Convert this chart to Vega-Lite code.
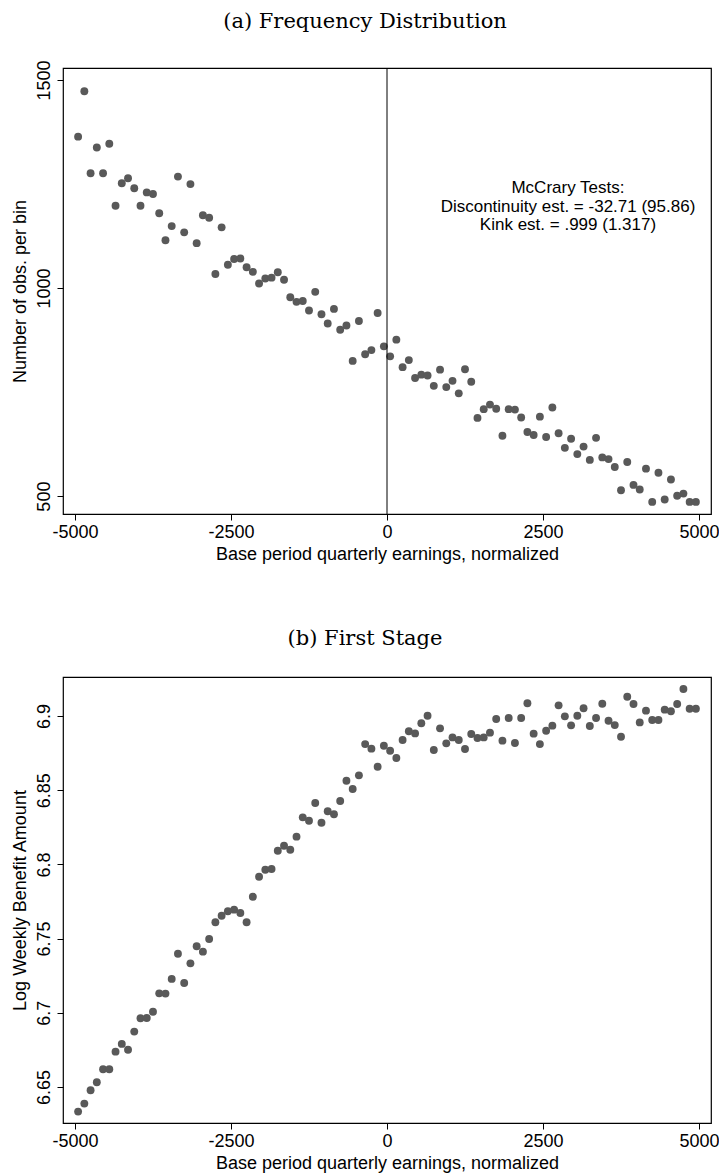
{
  "$schema": "https://vega.github.io/schema/vega-lite/v6.json",
  "background": "white",
  "padding": {"left": 10, "top": 10, "right": 0, "bottom": 0},
  "config": {
    "view": {"stroke": "black", "strokeWidth": 1.2},
    "font": "Liberation Sans",
    "axis": {"domain": false, "grid": false, "ticks": true, "tickColor": "black", "tickSize": 6, "tickWidth": 1, "labelFont": "Liberation Sans", "labelFontSize": 18, "labelColor": "black", "titleFont": "Liberation Sans", "titleFontSize": 18, "titleFontWeight": "normal", "titleColor": "black"},
    "title": {"font": "DejaVu Serif", "fontSize": 21, "fontWeight": "normal", "color": "black", "frame": "bounds", "offset": 28}
  },
  "datasets": {
    "freq": [
      {"x":-4950,"y":1364},{"x":-4850,"y":1473},{"x":-4750,"y":1276},{"x":-4650,"y":1338},{"x":-4550,"y":1276},
      {"x":-4450,"y":1347},{"x":-4350,"y":1198},{"x":-4250,"y":1252},{"x":-4150,"y":1264},{"x":-4050,"y":1240},
      {"x":-3950,"y":1198},{"x":-3850,"y":1230},{"x":-3750,"y":1226},{"x":-3650,"y":1180},{"x":-3550,"y":1115},
      {"x":-3450,"y":1149},{"x":-3350,"y":1268},{"x":-3250,"y":1134},{"x":-3150,"y":1250},{"x":-3050,"y":1108},
      {"x":-2950,"y":1175},{"x":-2850,"y":1169},{"x":-2750,"y":1034},{"x":-2650,"y":1146},{"x":-2550,"y":1056},
      {"x":-2450,"y":1070},{"x":-2350,"y":1071},{"x":-2250,"y":1050},{"x":-2150,"y":1039},{"x":-2050,"y":1011},
      {"x":-1950,"y":1023},{"x":-1850,"y":1025},{"x":-1750,"y":1038},{"x":-1650,"y":1020},{"x":-1550,"y":978},
      {"x":-1450,"y":967},{"x":-1350,"y":969},{"x":-1250,"y":946},{"x":-1150,"y":991},{"x":-1050,"y":937},
      {"x":-950,"y":915},{"x":-850,"y":950},{"x":-750,"y":900},{"x":-650,"y":910},{"x":-550,"y":825},
      {"x":-450,"y":921},{"x":-350,"y":841},{"x":-250,"y":851},{"x":-150,"y":940},{"x":-50,"y":860},
      {"x":50,"y":836},{"x":150,"y":876},{"x":250,"y":810},{"x":350,"y":827},{"x":450,"y":784},
      {"x":550,"y":792},{"x":650,"y":790},{"x":750,"y":765},{"x":850,"y":804},{"x":950,"y":762},
      {"x":1050,"y":777},{"x":1150,"y":747},{"x":1250,"y":805},{"x":1350,"y":775},{"x":1450,"y":688},
      {"x":1550,"y":709},{"x":1650,"y":720},{"x":1750,"y":710},{"x":1850,"y":645},{"x":1950,"y":709},
      {"x":2050,"y":708},{"x":2150,"y":689},{"x":2250,"y":654},{"x":2350,"y":647},{"x":2450,"y":691},
      {"x":2550,"y":642},{"x":2650,"y":713},{"x":2750,"y":651},{"x":2850,"y":616},{"x":2950,"y":638},
      {"x":3050,"y":601},{"x":3150,"y":619},{"x":3250,"y":587},{"x":3350,"y":640},{"x":3450,"y":593},
      {"x":3550,"y":589},{"x":3650,"y":570},{"x":3750,"y":514},{"x":3850,"y":582},{"x":3950,"y":527},
      {"x":4050,"y":516},{"x":4150,"y":566},{"x":4250,"y":486},{"x":4350,"y":556},{"x":4450,"y":492},
      {"x":4550,"y":540},{"x":4650,"y":501},{"x":4750,"y":506},{"x":4850,"y":486},{"x":4950,"y":486}
    ],
    "stage": [
      {"x":-4950,"y":6.6334},{"x":-4850,"y":6.6388},{"x":-4750,"y":6.6478},{"x":-4650,"y":6.6532},{"x":-4550,"y":6.6619},
      {"x":-4450,"y":6.6619},{"x":-4350,"y":6.6738},{"x":-4250,"y":6.679},{"x":-4150,"y":6.6751},{"x":-4050,"y":6.6873},
      {"x":-3950,"y":6.6963},{"x":-3850,"y":6.6965},{"x":-3750,"y":6.7007},{"x":-3650,"y":6.7131},{"x":-3550,"y":6.7129},
      {"x":-3450,"y":6.7228},{"x":-3350,"y":6.7398},{"x":-3250,"y":6.7201},{"x":-3150,"y":6.7333},{"x":-3050,"y":6.7448},
      {"x":-2950,"y":6.7412},{"x":-2850,"y":6.7497},{"x":-2750,"y":6.761},{"x":-2650,"y":6.7654},{"x":-2550,"y":6.7684},
      {"x":-2450,"y":6.7695},{"x":-2350,"y":6.7672},{"x":-2250,"y":6.761},{"x":-2150,"y":6.7782},{"x":-2050,"y":6.7917},
      {"x":-1950,"y":6.7964},{"x":-1850,"y":6.7969},{"x":-1750,"y":6.8092},{"x":-1650,"y":6.8126},{"x":-1550,"y":6.8099},
      {"x":-1450,"y":6.8187},{"x":-1350,"y":6.8317},{"x":-1250,"y":6.8294},{"x":-1150,"y":6.8414},{"x":-1050,"y":6.8281},
      {"x":-950,"y":6.8358},{"x":-850,"y":6.8338},{"x":-750,"y":6.8427},{"x":-650,"y":6.8564},{"x":-550,"y":6.8508},
      {"x":-450,"y":6.86},{"x":-350,"y":6.8811},{"x":-250,"y":6.878},{"x":-150,"y":6.8658},{"x":-50,"y":6.88},
      {"x":50,"y":6.8766},{"x":150,"y":6.8717},{"x":250,"y":6.8838},{"x":350,"y":6.8897},{"x":450,"y":6.8883},
      {"x":550,"y":6.8951},{"x":650,"y":6.9002},{"x":750,"y":6.8771},{"x":850,"y":6.8917},{"x":950,"y":6.8816},
      {"x":1050,"y":6.8856},{"x":1150,"y":6.8838},{"x":1250,"y":6.8778},{"x":1350,"y":6.8879},{"x":1450,"y":6.8852},
      {"x":1550,"y":6.8856},{"x":1650,"y":6.8888},{"x":1750,"y":6.898},{"x":1850,"y":6.8834},{"x":1950,"y":6.8987},
      {"x":2050,"y":6.8818},{"x":2150,"y":6.8987},{"x":2250,"y":6.9086},{"x":2350,"y":6.8881},{"x":2450,"y":6.8811},
      {"x":2550,"y":6.8901},{"x":2650,"y":6.8935},{"x":2750,"y":6.9072},{"x":2850,"y":6.8998},{"x":2950,"y":6.8937},
      {"x":3050,"y":6.9002},{"x":3150,"y":6.9052},{"x":3250,"y":6.8933},{"x":3350,"y":6.8987},{"x":3450,"y":6.9083},
      {"x":3550,"y":6.8968},{"x":3650,"y":6.8939},{"x":3750,"y":6.886},{"x":3850,"y":6.913},{"x":3950,"y":6.9081},
      {"x":4050,"y":6.8957},{"x":4150,"y":6.9036},{"x":4250,"y":6.8973},{"x":4350,"y":6.8973},{"x":4450,"y":6.9043},
      {"x":4550,"y":6.9032},{"x":4650,"y":6.9081},{"x":4750,"y":6.9182},{"x":4850,"y":6.9049},{"x":4950,"y":6.9049}
    ],
    "notes": [
      {"x": 2900, "y": 1240, "label": "McCrary Tests:"},
      {"x": 2900, "y": 1196, "label": "Discontinuity est. = -32.71 (95.86)"},
      {"x": 2900, "y": 1152, "label": "Kink est. = .999 (1.317)"}
    ],
    "cutoff": [{"x": 0}]
  },
  "bounds": "flush",
  "spacing": 163,
  "vconcat": [
    {
      "title": "(a) Frequency Distribution",
      "width": 648,
      "height": 446,
      "layer": [
        {
          "data": {"name": "freq"},
          "mark": {"type": "circle", "size": 62, "color": "#595959", "opacity": 1},
          "encoding": {
            "x": {"field": "x", "type": "quantitative", "scale": {"domain": [-5192, 5192], "nice": false, "zero": false},
                  "axis": {"values": [-5000, -2500, 0, 2500, 5000], "labelExpr": "'' + datum.value", "title": "Base period quarterly earnings, normalized", "labelPadding": 3, "titlePadding": 4, "labelFlush": false}},
            "y": {"field": "y", "type": "quantitative", "scale": {"domain": [457, 1529], "nice": false, "zero": false},
                  "axis": {"values": [500, 1000, 1500], "labelExpr": "'' + datum.value", "labelAngle": -90, "labelAlign": "center", "labelBaseline": "bottom", "labelPadding": 4, "title": "Number of obs. per bin", "titlePadding": 6}}
          }
        },
        {
          "data": {"name": "cutoff"},
          "mark": {"type": "rule", "color": "black", "strokeWidth": 1},
          "encoding": {"x": {"field": "x", "type": "quantitative"}}
        },
        {
          "data": {"name": "notes"},
          "mark": {"type": "text", "font": "Liberation Sans", "fontSize": 17, "align": "center", "baseline": "middle", "color": "black"},
          "encoding": {
            "x": {"field": "x", "type": "quantitative"},
            "y": {"field": "y", "type": "quantitative"},
            "text": {"field": "label"}
          }
        }
      ]
    },
    {
      "title": "(b) First Stage",
      "width": 648,
      "height": 446,
      "data": {"name": "stage"},
      "mark": {"type": "circle", "size": 62, "color": "#595959", "opacity": 1},
      "encoding": {
        "x": {"field": "x", "type": "quantitative", "scale": {"domain": [-5192, 5192], "nice": false, "zero": false},
              "axis": {"values": [-5000, -2500, 0, 2500, 5000], "labelExpr": "'' + datum.value", "title": "Base period quarterly earnings, normalized", "labelPadding": 3, "titlePadding": 4, "labelFlush": false}},
        "y": {"field": "y", "type": "quantitative", "scale": {"domain": [6.6257, 6.9263], "nice": false, "zero": false},
              "axis": {"values": [6.65, 6.7, 6.75, 6.8, 6.85, 6.9], "labelExpr": "'' + datum.value", "labelAngle": -90, "labelAlign": "center", "labelBaseline": "bottom", "labelPadding": 4, "title": "Log Weekly Benefit Amount", "titlePadding": 6}}
      }
    }
  ]
}
